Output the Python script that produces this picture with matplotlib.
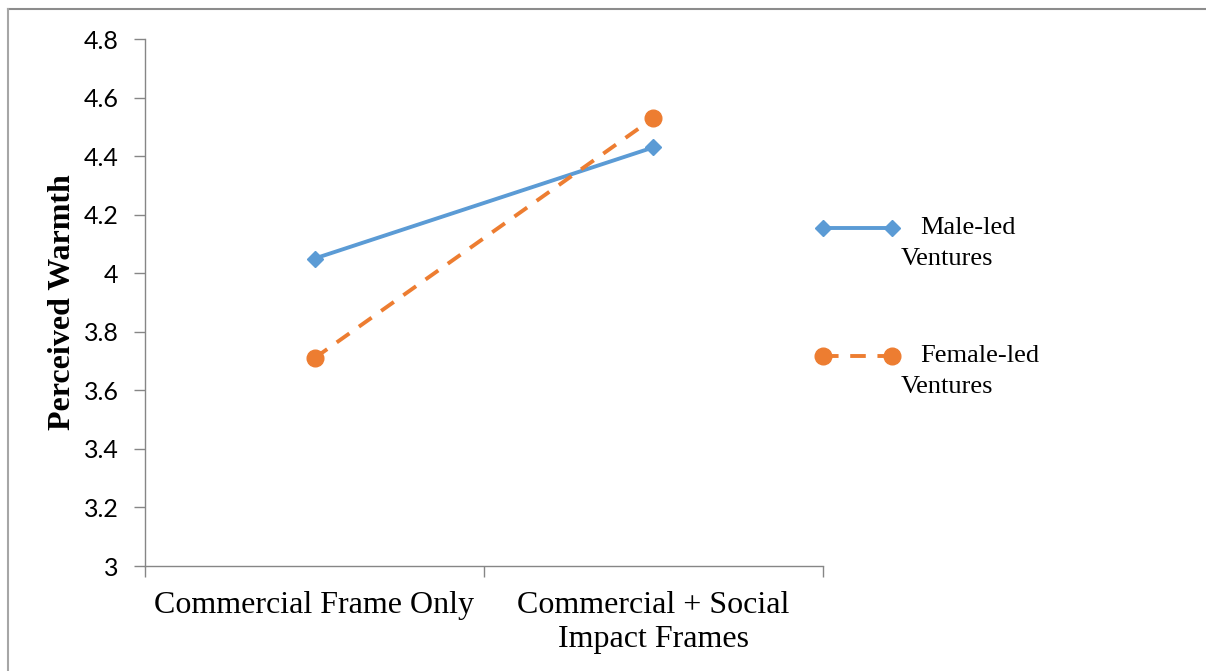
import matplotlib.pyplot as plt
from matplotlib.lines import Line2D

categories = ['Commercial Frame Only', 'Commercial + Social\nImpact Frames']
male_led = [4.05, 4.43]
female_led = [3.71, 4.53]
y_ticks = [3, 3.2, 3.4, 3.6, 3.8, 4, 4.2, 4.4, 4.6, 4.8]
y_tick_labels = ['3', '3.2', '3.4', '3.6', '3.8', '4', '4.2', '4.4', '4.6', '4.8']

blue = '#5b9bd5'
orange = '#ed7d31'
grey = '#868686'
W, H = 1206, 671

fig = plt.figure(figsize=(12.06, 6.71), dpi=100)
ax = fig.add_axes([145 / W, 1 - 566 / H, (823 - 145) / W, (566 - 39) / H])

x = [0.5, 1.5]
ax.plot(x, male_led, '-', color=blue, lw=2.8, marker='D', ms=8)
ax.plot(x, female_led, '--', color=orange, lw=2.8, marker='o', ms=12,
        dashes=(4, 3))

ax.set_xlim(0, 2)
ax.set_ylim(3, 4.8)
ax.set_yticks(y_ticks)
ax.set_yticklabels(y_tick_labels, family='Lato', fontsize=18)
ax.set_xticks([0, 1, 2])
ax.set_xticklabels([])
ax.set_xticks(x, minor=True)
ax.set_xticklabels(categories, minor=True, family='Liberation Serif', fontsize=23,
                   linespacing=1.24)
ax.tick_params(axis='x', which='minor', length=0, pad=18)
ax.tick_params(axis='x', which='major', length=8, color=grey, width=1)
ax.tick_params(axis='y', length=8, color=grey, width=1, pad=11)

for side in ['top', 'right']:
    ax.spines[side].set_visible(False)
for side in ['left', 'bottom']:
    ax.spines[side].set_color(grey)
    ax.spines[side].set_linewidth(1)

fig.text(63 / W, 1 - 302 / H, 'Perceived Warmth', family='Liberation Serif',
         fontweight='bold', fontsize=23, rotation=90, ha='center', va='center')

# legend drawn by hand to mimic Excel's layout
legend_rows = [
    (228, blue, '-', 'D', 8, 'Male-led', 'Ventures'),
    (356, orange, '--', 'o', 12, 'Female-led', 'Ventures'),
]
for ypix, col, ls, mk, ms, l1, l2 in legend_rows:
    yf = 1 - ypix / H
    line = Line2D([823 / W, 892 / W], [yf, yf], transform=fig.transFigure,
                  color=col, lw=2.8, ls=ls, marker=mk, ms=ms)
    if ls == '--':
        line.set_dashes((4, 3))
    fig.add_artist(line)
    fig.text(920 / W, yf, l1, family='Liberation Serif', fontsize=19,
             va='center', ha='left')
    fig.text(901 / W, yf - 31 / H, l2, family='Liberation Serif', fontsize=19,
             va='center', ha='left')

# outer chart border (top and left only visible)
fig.add_artist(Line2D([8 / W, 1], [1 - 9 / H, 1 - 9 / H],
                      transform=fig.transFigure, color='#8c8c8c', lw=1.5))
fig.add_artist(Line2D([8 / W, 8 / W], [0, 1 - 9 / H],
                      transform=fig.transFigure, color='#a6a6a6', lw=1.5))

fig.savefig('out.png', dpi=100)
